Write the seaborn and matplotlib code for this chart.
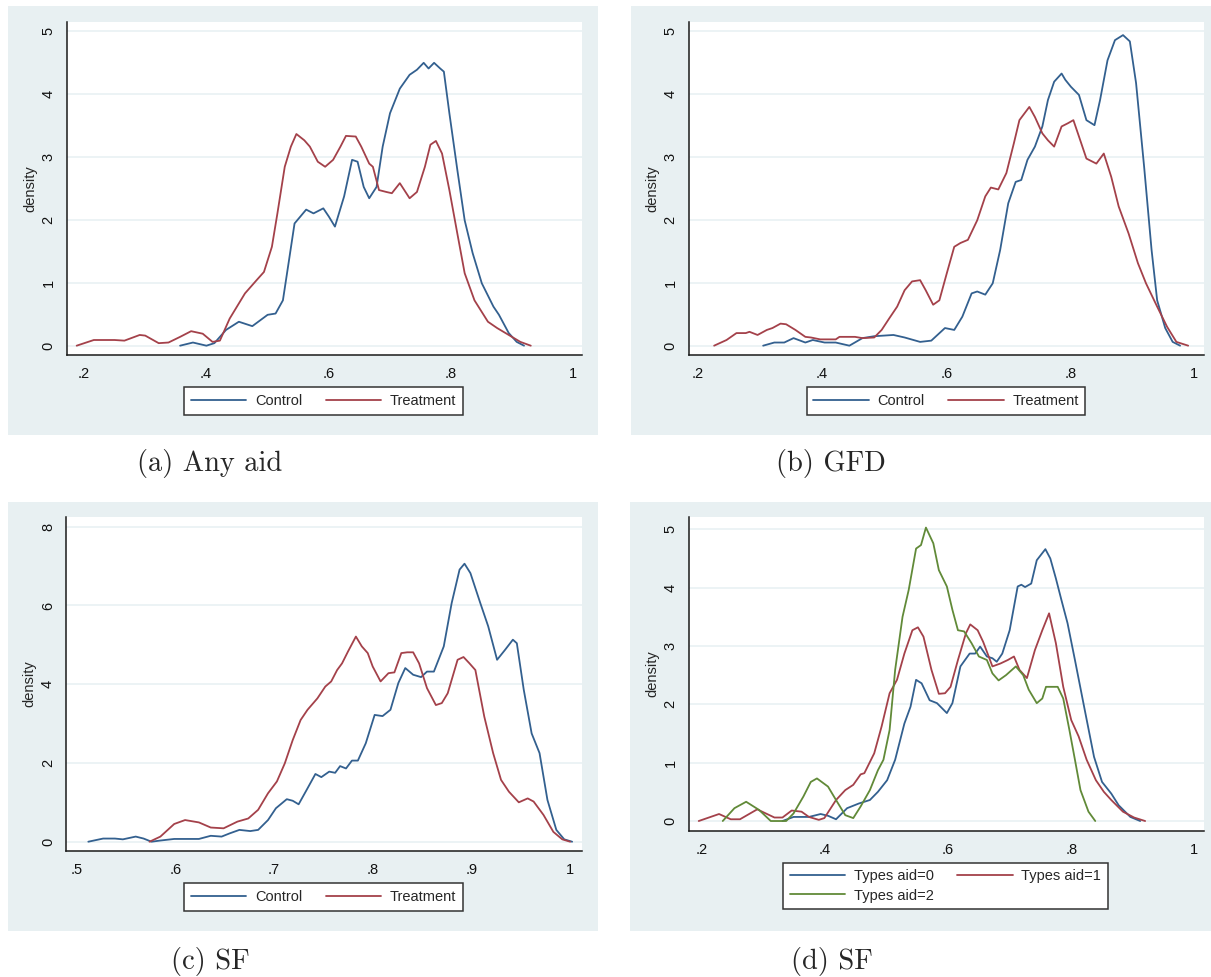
import numpy as np
import pandas as pd
import matplotlib
matplotlib.use("Agg")
import matplotlib.pyplot as plt
from matplotlib.patches import Rectangle
from matplotlib.lines import Line2D
import seaborn as sns

sns.set_style("white")
plt.rcParams['font.family'] = ['Liberation Sans', 'DejaVu Sans']

# ---------------- data (x, density) ----------------
a_control = [(0.358,0.00),(0.379,0.05),(0.401,0.00),(0.414,0.04),(0.433,0.25),(0.454,0.38),(0.476,0.31),
             (0.501,0.49),(0.514,0.51),(0.526,0.72),(0.536,1.36),(0.545,1.94),(0.564,2.16),(0.576,2.10),
             (0.592,2.18),(0.601,2.05),(0.611,1.89),(0.626,2.37),(0.639,2.95),(0.648,2.92),(0.658,2.52),
             (0.667,2.34),(0.679,2.52),(0.689,3.16),(0.701,3.69),(0.717,4.08),(0.733,4.30),(0.745,4.38),
             (0.756,4.49),(0.764,4.40),(0.773,4.49),(0.783,4.40),(0.789,4.35),(0.798,3.69),(0.811,2.79),
             (0.823,1.99),(0.836,1.47),(0.851,0.99),(0.870,0.62),(0.879,0.49),(0.895,0.20),(0.908,0.06),
             (0.920,0.00)]
a_treatment = [(0.189,0.00),(0.217,0.09),(0.251,0.09),(0.267,0.08),(0.292,0.17),(0.301,0.16),(0.323,0.04),
               (0.339,0.05),(0.358,0.14),(0.376,0.23),(0.395,0.19),(0.411,0.06),(0.423,0.08),(0.439,0.43),
               (0.464,0.83),(0.483,1.04),(0.495,1.17),(0.508,1.57),(0.517,2.10),(0.529,2.84),(0.539,3.16),
               (0.548,3.36),(0.561,3.26),(0.570,3.16),(0.583,2.92),(0.595,2.84),(0.608,2.95),(0.620,3.16),
               (0.629,3.33),(0.645,3.32),(0.654,3.16),(0.667,2.89),(0.673,2.84),(0.683,2.47),(0.695,2.44),
               (0.704,2.42),(0.717,2.58),(0.733,2.34),(0.745,2.44),(0.758,2.84),(0.767,3.19),(0.776,3.25),
               (0.786,3.05),(0.798,2.47),(0.811,1.78),(0.823,1.15),(0.839,0.72),(0.861,0.38),(0.876,0.28),
               (0.895,0.17),(0.914,0.06),(0.931,0.00)]

b_control = [(0.305,0.00),(0.323,0.05),(0.339,0.05),(0.354,0.12),(0.373,0.05),(0.385,0.09),(0.404,0.05),
             (0.422,0.05),(0.444,0.00),(0.465,0.12),(0.484,0.15),(0.515,0.17),(0.533,0.13),(0.558,0.06),
             (0.576,0.08),(0.598,0.28),(0.613,0.25),(0.626,0.46),(0.641,0.83),(0.650,0.86),(0.663,0.81),
             (0.675,0.99),(0.687,1.52),(0.700,2.26),(0.712,2.60),(0.721,2.63),(0.731,2.95),(0.743,3.16),
             (0.755,3.48),(0.764,3.90),(0.774,4.19),(0.786,4.32),(0.792,4.22),(0.801,4.11),(0.814,3.98),
             (0.826,3.58),(0.839,3.50),(0.848,3.90),(0.860,4.53),(0.872,4.85),(0.885,4.93),(0.896,4.83),
             (0.906,4.17),(0.919,2.84),(0.931,1.52),(0.940,0.72),(0.953,0.28),(0.965,0.06),(0.977,0.00)]
b_treatment = [(0.226,0.00),(0.246,0.09),(0.262,0.20),(0.277,0.20),(0.283,0.22),(0.296,0.17),(0.311,0.25),
               (0.320,0.28),(0.333,0.35),(0.342,0.34),(0.357,0.25),(0.373,0.14),(0.382,0.13),(0.397,0.10),
               (0.422,0.10),(0.428,0.14),(0.453,0.14),(0.465,0.12),(0.484,0.13),(0.496,0.25),(0.508,0.43),
               (0.521,0.62),(0.533,0.88),(0.545,1.02),(0.558,1.04),(0.567,0.88),(0.579,0.65),(0.589,0.72),
               (0.601,1.15),(0.613,1.57),(0.623,1.63),(0.635,1.68),(0.650,1.99),(0.663,2.37),(0.672,2.51),
               (0.684,2.48),(0.697,2.74),(0.709,3.21),(0.718,3.58),(0.734,3.79),(0.743,3.63),(0.755,3.37),
               (0.764,3.26),(0.774,3.16),(0.786,3.48),(0.796,3.53),(0.805,3.58),(0.814,3.32),(0.826,2.97),
               (0.842,2.89),(0.854,3.05),(0.866,2.68),(0.878,2.21),(0.894,1.78),(0.909,1.31),(0.922,0.99),
               (0.940,0.62),(0.956,0.30),(0.971,0.06),(0.990,0.00)]

c_control = [(0.512,0.00),(0.527,0.08),(0.539,0.08),(0.547,0.06),(0.560,0.13),(0.568,0.08),(0.576,0.00),
             (0.585,0.03),(0.599,0.07),(0.612,0.07),(0.624,0.07),(0.636,0.15),(0.647,0.13),(0.655,0.21),
             (0.665,0.30),(0.676,0.27),(0.684,0.30),(0.694,0.55),(0.702,0.85),(0.713,1.08),(0.719,1.04),
             (0.725,0.95),(0.733,1.31),(0.742,1.72),(0.748,1.64),(0.756,1.78),(0.762,1.75),(0.767,1.92),
             (0.773,1.86),(0.779,2.06),(0.785,2.06),(0.793,2.50),(0.802,3.22),(0.810,3.19),(0.818,3.35),
             (0.826,4.03),(0.833,4.41),(0.841,4.24),(0.849,4.18),(0.855,4.32),(0.862,4.32),(0.872,4.96),
             (0.880,6.06),(0.888,6.91),(0.893,7.06),(0.899,6.82),(0.909,6.06),(0.917,5.47),(0.926,4.62),
             (0.934,4.87),(0.942,5.13),(0.946,5.04),(0.953,3.86),(0.961,2.75),(0.969,2.25),(0.977,1.06),
             (0.986,0.30),(0.994,0.06),(1.002,0.00)]
c_treatment = [(0.574,0.00),(0.585,0.13),(0.599,0.45),(0.610,0.55),(0.624,0.49),(0.636,0.36),(0.649,0.34),
               (0.663,0.51),(0.674,0.59),(0.684,0.81),(0.694,1.23),(0.703,1.53),(0.711,1.99),(0.719,2.58),
               (0.727,3.09),(0.734,3.35),(0.744,3.64),(0.752,3.94),(0.758,4.07),(0.764,4.36),(0.769,4.53),
               (0.775,4.83),(0.783,5.21),(0.789,4.96),(0.795,4.79),(0.800,4.45),(0.808,4.07),(0.816,4.28),
               (0.822,4.30),(0.829,4.79),(0.835,4.81),(0.841,4.81),(0.847,4.53),(0.855,3.90),(0.864,3.47),
               (0.870,3.52),(0.876,3.77),(0.886,4.62),(0.892,4.69),(0.898,4.53),(0.904,4.36),(0.913,3.18),
               (0.922,2.25),(0.930,1.57),(0.938,1.27),(0.948,1.00),(0.957,1.10),(0.963,1.02),(0.973,0.68),
               (0.983,0.25),(0.992,0.06),(1.000,0.00)]

d_types0 = [(0.331,0.00),(0.349,0.07),(0.374,0.07),(0.393,0.12),(0.405,0.09),(0.418,0.03),(0.436,0.22),
            (0.455,0.30),(0.473,0.36),(0.486,0.50),(0.501,0.70),(0.514,1.05),(0.529,1.67),(0.539,1.96),
            (0.548,2.42),(0.557,2.36),(0.570,2.07),(0.582,2.02),(0.598,1.85),(0.607,2.02),(0.620,2.65),
            (0.635,2.87),(0.644,2.87),(0.652,2.99),(0.663,2.82),(0.672,2.79),(0.679,2.73),(0.688,2.87),
            (0.700,3.27),(0.713,4.02),(0.719,4.05),(0.725,4.01),(0.735,4.07),(0.744,4.47),(0.758,4.66),
            (0.766,4.50),(0.775,4.16),(0.784,3.79),(0.794,3.39),(0.806,2.76),(0.822,1.90),(0.837,1.10),
            (0.850,0.67),(0.865,0.47),(0.877,0.27),(0.896,0.07),(0.912,0.00)]
d_types1 = [(0.195,0.00),(0.228,0.12),(0.247,0.03),(0.262,0.03),(0.290,0.20),(0.318,0.06),(0.331,0.06),
            (0.346,0.18),(0.362,0.16),(0.374,0.07),(0.390,0.02),(0.399,0.05),(0.418,0.36),(0.433,0.53),
            (0.446,0.62),(0.458,0.80),(0.464,0.82),(0.480,1.16),(0.492,1.62),(0.505,2.19),(0.517,2.42),
            (0.529,2.87),(0.542,3.27),(0.551,3.32),(0.560,3.16),(0.573,2.59),(0.585,2.18),(0.595,2.19),
            (0.604,2.30),(0.616,2.76),(0.629,3.22),(0.636,3.37),(0.648,3.27),(0.657,3.07),(0.672,2.65),
            (0.685,2.70),(0.697,2.76),(0.707,2.82),(0.716,2.59),(0.728,2.45),(0.741,2.93),(0.753,3.27),
            (0.764,3.56),(0.775,3.05),(0.787,2.30),(0.800,1.73),(0.812,1.45),(0.825,1.05),(0.840,0.70),
            (0.853,0.50),(0.865,0.36),(0.884,0.16),(0.902,0.06),(0.920,0.00)]
d_types2 = [(0.234,0.00),(0.253,0.22),(0.272,0.33),(0.293,0.19),(0.312,0.00),(0.337,0.00),(0.349,0.13),
            (0.365,0.42),(0.377,0.67),(0.387,0.73),(0.405,0.59),(0.418,0.36),(0.433,0.10),(0.446,0.05),
            (0.458,0.25),(0.473,0.53),(0.486,0.87),(0.495,1.05),(0.505,1.56),(0.514,2.59),(0.526,3.50),
            (0.536,3.96),(0.548,4.67),(0.556,4.73),(0.564,5.03),(0.576,4.76),(0.585,4.30),(0.598,4.02),
            (0.607,3.62),(0.616,3.27),(0.626,3.25),(0.638,3.05),(0.650,2.82),(0.663,2.76),(0.672,2.53),
            (0.682,2.41),(0.694,2.50),(0.710,2.65),(0.722,2.50),(0.731,2.25),(0.744,2.02),(0.753,2.10),
            (0.759,2.30),(0.778,2.30),(0.787,2.10),(0.797,1.56),(0.806,1.05),(0.815,0.53),(0.828,0.16),
            (0.839,0.00)]

ticks_a = [0.2, 0.4, 0.6, 0.8, 1.0]
ticks_c = [0.5, 0.6, 0.7, 0.8, 0.9, 1.0]
ylab_5 = [0, 1, 2, 3, 4, 5]
ylab_8 = [0, 2, 4, 6, 8]
captions = ["(a) Any aid", "(b) GFD", "(c) SF", "(d) SF"]
labels_ct = ["Control", "Treatment"]
labels_types = ["Types aid=0", "Types aid=1", "Types aid=2"]

# ---------------- styling / layout ----------------
W, H = 1211, 977
fig = plt.figure(figsize=(W / 100, H / 100), dpi=100)
fig.patch.set_facecolor("white")

BG = "#E8F0F2"
GRID = "#EBF2F4"
BLUE = "#33608F"
RED = "#A4414A"
GREEN = "#618A38"
LW = 1.3
FS = 10.5


def fig_rect(x0, y0, x1, y1):
    return [x0 / W, 1 - y1 / H, (x1 - x0) / W, (y1 - y0) / H]


def fmt(v):
    if v == 1.0:
        return "1"
    return ("%.1f" % v).lstrip("0")


panels = [
    dict(bg=(8, 6, 598, 435), ax=(66.7, 22, 582, 355), xlim=(0.1727, 1.0147), ylim=(-0.148, 5.138),
         xt=ticks_a, yt=ylab_5, series=[(a_control, BLUE), (a_treatment, RED)], labels=labels_ct,
         leg=(323.7, 401), cap=(210, 463)),
    dict(bg=(631, 6, 1215, 435), ax=(688.5, 22, 1204, 355), xlim=(0.1847, 1.0155), ylim=(-0.148, 5.138),
         xt=ticks_a, yt=ylab_5, series=[(b_control, BLUE), (b_treatment, RED)], labels=labels_ct,
         leg=(946, 401), cap=(831, 463)),
    dict(bg=(8, 502, 598, 931), ax=(66, 517, 582, 851), xlim=(0.4894, 1.012), ylim=(-0.236, 8.246),
         xt=ticks_c, yt=ylab_8, series=[(c_control, BLUE), (c_treatment, RED)], labels=labels_ct,
         leg=(323.7, 897), cap=(210, 961)),
    dict(bg=(630, 502, 1215, 931), ax=(688.5, 517, 1204, 830.7), xlim=(0.1784, 1.0156), ylim=(-0.166, 5.211),
         xt=ticks_a, yt=ylab_5, series=[(d_types0, BLUE), (d_types1, RED), (d_types2, GREEN)],
         labels=labels_types, leg=(945.5, 886), cap=(832, 961)),
]

for i, p in enumerate(panels):
    x0, y0, x1, y1 = p["bg"]
    fig.add_artist(Rectangle((x0 / W, 1 - y1 / H), (x1 - x0) / W, (y1 - y0) / H,
                             transform=fig.transFigure, facecolor=BG, edgecolor="none", zorder=-5))
    ax = fig.add_axes(fig_rect(*p["ax"]))
    ax.set_facecolor("white")
    handles = []
    for (pts, col), lab in zip(p["series"], p["labels"]):
        df = pd.DataFrame(pts, columns=["x", "density"])
        sns.lineplot(data=df, x="x", y="density", ax=ax, color=col, lw=LW,
                     estimator=None, sort=False, legend=False)
        handles.append(Line2D([0], [0], color=col, lw=LW))
    ax.set_xlim(*p["xlim"])
    ax.set_ylim(*p["ylim"])
    ax.set_xticks(p["xt"])
    ax.set_xticklabels([fmt(v) for v in p["xt"]], fontsize=FS)
    ax.set_yticks(p["yt"])
    ax.set_yticklabels([str(v) for v in p["yt"]], fontsize=FS, rotation=90, va="center")
    ax.set_xlabel("")
    ax.set_ylabel("density", fontsize=FS, labelpad=3)
    ax.yaxis.grid(True, color=GRID, lw=1.3)
    ax.xaxis.grid(False)
    ax.set_axisbelow(True)
    for s in ["top", "right"]:
        ax.spines[s].set_visible(False)
    for s in ["left", "bottom"]:
        ax.spines[s].set_color("#1a1a1a")
        ax.spines[s].set_linewidth(1.1)
    ax.tick_params(axis="both", direction="out", length=5, width=1.0, color="#1a1a1a",
                   labelcolor="#111111", pad=3)
    ax.tick_params(axis="x", pad=4)

    labs = p["labels"]
    if len(handles) == 3:
        handles = [handles[0], handles[2], handles[1]]
        labs = [labs[0], labs[2], labs[1]]
    cx, cy = p["leg"]
    leg = ax.legend(handles, labs, loc="center", bbox_to_anchor=(cx / W, 1 - cy / H),
                    bbox_transform=fig.transFigure, ncol=2, fontsize=FS, frameon=True,
                    fancybox=False, edgecolor="#333333", framealpha=1, handlelength=3.8,
                    handletextpad=0.6, columnspacing=1.6, borderpad=0.45, labelspacing=0.35)
    leg.get_frame().set_linewidth(1.1)

    ccx, ccy = p["cap"]
    fig.text(ccx / W, 1 - ccy / H, captions[i], ha="center", va="center",
             family="cmr10", fontsize=20.5)

fig.savefig("out.png", dpi=100, facecolor="white")
